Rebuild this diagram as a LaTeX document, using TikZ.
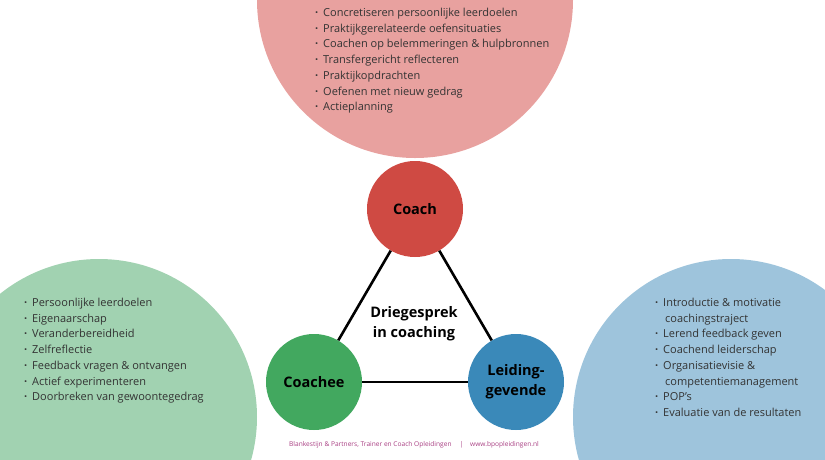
\documentclass[tikz,border=0pt]{standalone}
\usepackage{fontspec}
\setmainfont{Open Sans}
\usetikzlibrary{positioning}
\definecolor{coachpink}{RGB}{232,161,159}
\definecolor{coacheegreen}{RGB}{161,210,177}
\definecolor{leidingblue}{RGB}{158,196,220}
\definecolor{coachred}{RGB}{207,74,67}
\definecolor{coacheedark}{RGB}{66,168,95}
\definecolor{leidingdark}{RGB}{58,137,185}
\definecolor{footpurple}{RGB}{168,62,130}
\newcommand\bul{\makebox[8pt][l]{\textbf{\textperiodcentered}}}
\newcommand\cont{\hspace*{10pt}}

\begin{document}
\begin{tikzpicture}[x=1pt,y=-1pt,
  role/.style={circle, minimum size=96pt, inner sep=0pt, align=center, text=black,
    font=\fontsize{14.5}{20}\selectfont\bfseries},
  item/.style={anchor=base west, inner sep=0pt, text=black!80,
    font=\fontsize{11}{12}\selectfont},
  link/.style={line width=2.6pt, black}]
\useasboundingbox (0,0) rectangle (825,459);
\clip (0,0) rectangle (825,459);
% achtergrondcirkels
\fill[coachpink] (415,0) circle (158);
\fill[coacheegreen] (99,417) circle (158);
\fill[leidingblue] (731,417) circle (158);

\foreach \t [count=\i] in {Concretiseren persoonlijke leerdoelen,
    Praktijkgerelateerde oefensituaties,
    Coachen op belemmeringen \& hulpbronnen,
    Transfergericht reflecteren,Praktijkopdrachten,
    Oefenen met nieuw gedrag,Actieplanning} {
  \node[item] (coachitem\i) at (315,{16.5+(\i-1)*15.7}) {\bul\t};
}
\foreach \t [count=\i] in {Persoonlijke leerdoelen,Eigenaarschap,
    Veranderbereidheid,Zelfreflectie,Feedback vragen \& ontvangen,
    Actief experimenteren,Doorbreken van gewoontegedrag} {
  \node[item] (coacheeitem\i) at (24,{306.5+(\i-1)*15.7}) {\bul\t};
}
\foreach \t [count=\i] in {\bul Introductie \& motivatie,\cont coachingstraject,
    \bul Lerend feedback geven,\bul Coachend leiderschap,
    \bul Organisatievisie \&,\cont competentiemanagement,
    \bul POP’s,\bul Evaluatie van de resultaten} {
  \node[item] (leidingitem\i) at (655,{306.5+(\i-1)*15.7}) {\t};
}

\node[role, fill=coachred] (coach) at (415,209) {Coach};
\node[role, fill=coacheedark] (coachee) at (314,382) {Coachee};
\node[role, fill=leidingdark] (leiding) at (516,382) {Leiding-\\gevende};

\draw[link] (coach) -- (coachee);
\draw[link] (coach) -- (leiding);
\draw[link] (coachee) -- (leiding);

\node[align=center, font=\fontsize{14.5}{20}\selectfont\bfseries] (driegesprek) at (414,324)
  {Driegesprek\\in coaching};

\node[text=footpurple, font=\fontsize{6.6}{8}\selectfont] (footer) at (414,445)
  {Blankestijn \& Partners, Trainer en Coach Opleidingen \quad|\quad www.bpopleidingen.nl};
\end{tikzpicture}
\end{document}
